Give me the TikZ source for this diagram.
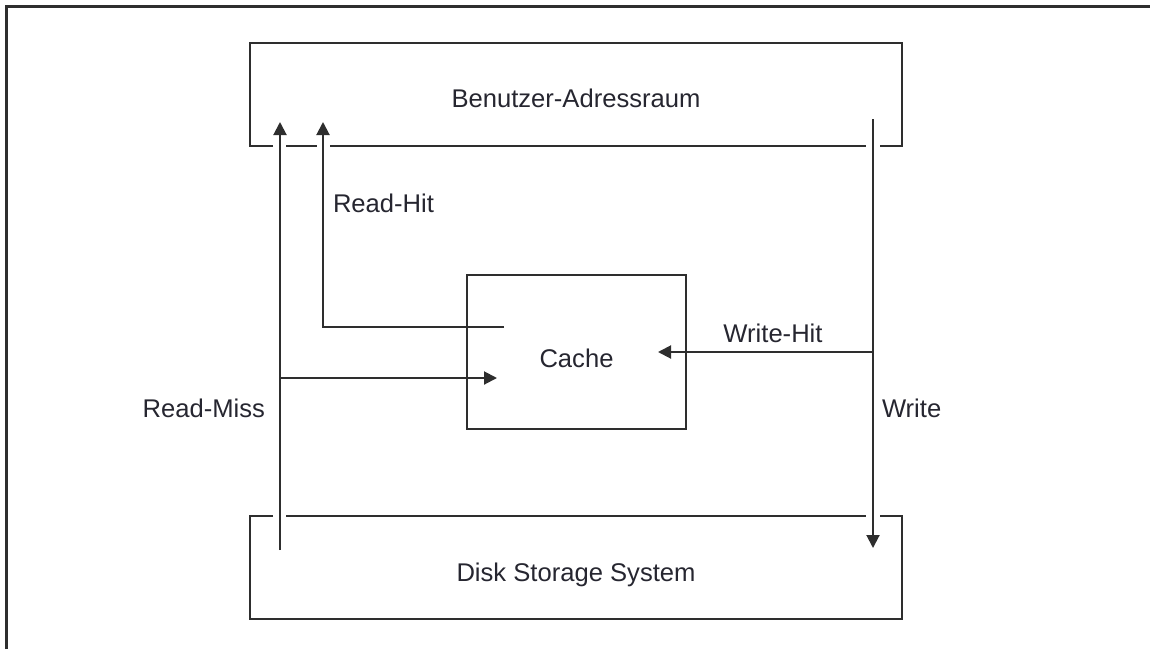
\documentclass[tikz,border=0pt]{standalone}
\usepackage{fontspec}
\setmainfont{Liberation Sans}
\usetikzlibrary{arrows.meta}
\definecolor{strich}{HTML}{2E2E2E}
\definecolor{schrift}{HTML}{262630}

\begin{document}
\begin{tikzpicture}[x=0.5pt, y=-0.5pt, color=strich, line width=1pt,
		font=\fontsize{12.8}{15}\selectfont,
		pfeil/.style={-{Triangle[length=6.5pt, width=6.5pt]}},
		beschrift/.style={inner sep=0pt, text=schrift}]
	\useasboundingbox (0,0) rectangle (1150,649);
	% Rahmen
	\draw[line width=1.5pt] (6,649) -- (6,6) -- (1150,6);
	% Benutzer-Adressraum und Platte, mit Luecken fuer die Pfeile
	\draw (273,146) -- (250,146) -- (250,43) -- (902,43) -- (902,146) -- (880,146);
	\foreach \a/\b in {286/317, 330/866} \draw (\a,146) -- (\b,146);
	\draw (273,516) -- (250,516) -- (250,619) -- (902,619) -- (902,516) -- (880,516);
	\draw (286,516) -- (866,516);
	\node[beschrift, anchor=base] (benutzer) at (576,107) {Benutzer-Adressraum};
	\node[beschrift, anchor=base] (platte) at (576,581) {Disk Storage System};
	\node[draw, minimum width=109.5pt, minimum height=77pt, inner sep=0pt,
	      text height=15pt, text depth=0pt, text=schrift] (cache) at (576.5,352) {Cache};
	% Endpunkte
	\coordinate (rmfuss) at (280,550);
	\coordinate (rmziel) at (280,122);
	\coordinate (rmabzw) at (280,378);
	\coordinate (rmende) at (497,378);
	\coordinate (rhstart) at (504,327);
	\coordinate (rhziel) at (323,122);
	\coordinate (wstart) at (873,119);
	\coordinate (wziel) at (873,548);
	\coordinate (whabzw) at (873,352);
	\coordinate (whende) at (658,352);
	% Pfeile
	\draw[pfeil] (rmfuss) -- (rmziel);
	\draw[pfeil] (rmabzw) -- (rmende);
	\draw[pfeil] (rhstart) -- (rhstart -| rhziel) -- (rhziel);
	\draw[pfeil] (wstart) -- (wziel);
	\draw[pfeil] (whabzw) -- (whende);
	% Beschriftungen
	\node[beschrift, anchor=base west] (readhit) at (332,212) {Read-Hit};
	\node[beschrift, anchor=base east] (readmiss) at (266,417) {Read-Miss};
	\node[beschrift, anchor=base] (writehit) at (773,342) {Write-Hit};
	\node[beschrift, anchor=base west] (write) at (881,417) {Write};
\end{tikzpicture}
\end{document}
